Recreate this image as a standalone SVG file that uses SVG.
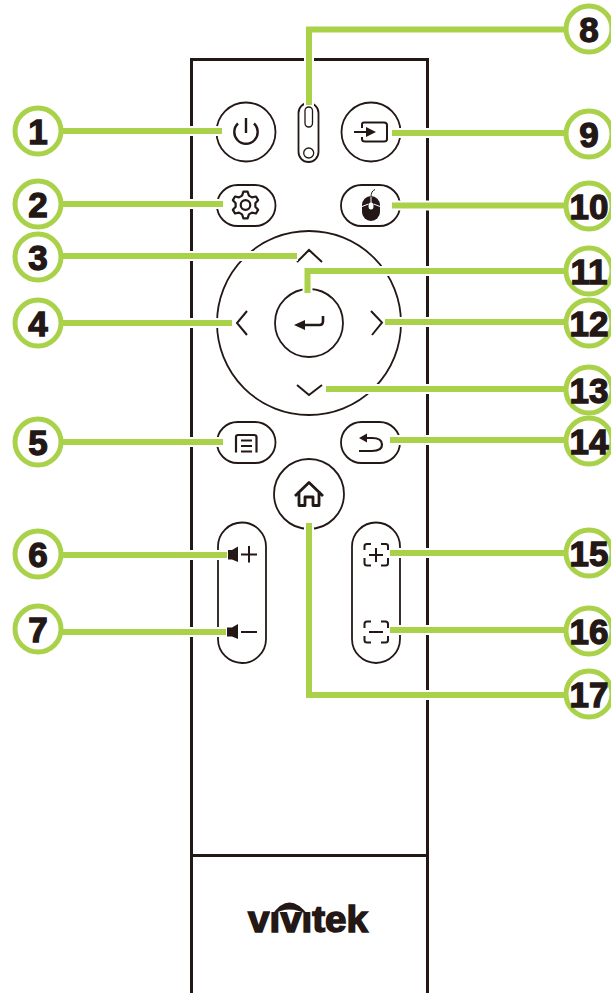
<svg xmlns="http://www.w3.org/2000/svg" width="611" height="993" viewBox="0 0 611 993">
<style>
.body{fill:none;stroke:#231815;stroke-width:3}
.btn{fill:#fff;stroke:#231815;stroke-width:1.8}
.ic{fill:none;stroke:#231815;stroke-width:2.200}
.icf{fill:#231815;stroke:none}
.halo path{fill:none;stroke:#fff;stroke-width:10}
.lead path{fill:none;stroke:#a9d24a;stroke-width:6}
.num circle{fill:#fff;stroke:#a9d24a;stroke-width:5}
.num text{font-family:"Liberation Sans",Arial,sans-serif;font-weight:700;font-size:35px;fill:#231815;stroke:#231815;stroke-width:1.300;text-anchor:middle}
</style>
<rect width="611" height="993" fill="#fff"/>
<g id="remote-body">
<path class="body" d="M191.500 993V59.500H427.500V993"/>
<path class="body" d="M191.500 855.500H427.500"/>
</g>
<g id="btn-power"><circle class="btn" cx="246" cy="132" r="29.500"/><path class="ic" d="M238 123.500A11.700 11.700 0 1 0 254 123.500M246 118V133" style="stroke-width:2.400"/></g>
<g id="sensor"><rect class="btn" x="298.500" y="103" width="20" height="59" rx="10"/><rect class="btn" x="305" y="107" width="7.500" height="20" rx="3.700" style="stroke-width:1.300"/><circle class="btn" cx="308.700" cy="153" r="5" style="stroke-width:1.300"/></g>
<g id="btn-input"><circle class="btn" cx="371" cy="132" r="29.500"/><path class="ic" d="M362 128V124.500Q362 122.500 364 122.500H384Q387 122.500 387 125V139Q387 141.500 384 141.500H365Q362 141.500 362 139V137" style="stroke-width:2"/><path class="ic" d="M354 132H370" style="stroke-width:2"/><path class="icf" d="M366 127L376 132L366 137Z"/></g>
<g id="btn-settings"><rect class="btn" x="217" y="185" width="58.500" height="41" rx="20.500"/><path class="ic" transform="translate(245.500 205)" d="M-3.420-9.400L-2.100-13.300H2.100L3.420-9.400L6.430-7.660L10.500-8.500L12.600-4.840L9.850-1.740V1.740L12.600 4.840L10.500 8.500L6.430 7.660L3.420 9.400L2.100 13.300H-2.100L-3.420 9.400L-6.430 7.660L-10.500 8.500L-12.600 4.840L-9.850 1.740V-1.740L-12.600-4.840L-10.500-8.500L-6.430-7.660Z" stroke-linejoin="round"/><circle class="ic" cx="245.500" cy="205" r="4.800"/></g>
<g id="btn-mouse"><rect class="btn" x="341" y="185" width="59" height="41" rx="20.500"/><rect class="icf" x="362" y="196" width="18" height="25" rx="9"/><path d="M371 196V203M362 206.500L368.500 204M380 206.500L373.500 204" fill="none" stroke="#fff" stroke-width="1"/><ellipse cx="371" cy="206" rx="2.500" ry="3.500" fill="#fff"/><path class="ic" d="M371 197Q371 191 375 189.500" style="stroke-width:1"/></g>
<g id="dpad"><circle class="btn" cx="309" cy="323" r="92"/><path class="ic" d="M247 311L237 323L247 335M371 311L382 322.500L372 335M297 262L309 250L322 262M297 385L309 395L322 385" style="stroke-width:2"/></g>
<g id="btn-enter"><circle class="btn" cx="309" cy="323" r="34"/><path class="ic" d="M300 325H319.500Q323 325 323 321V316" style="stroke-width:2.600"/><path class="icf" d="M294 325L305 320V330Z"/></g>
<g id="btn-menu"><rect class="btn" x="217" y="422" width="58.500" height="41" rx="20.500"/><path class="ic" d="M236 452.500V437Q236 435 238 435H254Q256.500 435 256.500 437V452.500M241 440.500H252M241 446H252M241 451.500H252"/></g>
<g id="btn-back"><rect class="btn" x="341" y="422" width="59" height="41" rx="20.500"/><path class="ic" d="M362 438H372Q382 438 382 444.500Q382 451 372 451H359"/><path class="icf" d="M359 438L367 433.500V442.500Z"/></g>
<g id="btn-home"><circle class="btn" cx="309" cy="494" r="35"/><path class="ic" d="M295 496L309 482.500L323 496M299 491V505.500H305V497H313V505.500H319V491" style="stroke-width:2.800" stroke-linejoin="round"/></g>
<g id="btn-volume"><rect class="btn" x="218" y="522.500" width="48" height="140.500" rx="24"/><path class="icf" d="M227 550H232L238 546.500V562L232 559.500H227Z"/><path class="ic" d="M241 554.500H257M249 546V562.500" style="stroke-width:2"/><path class="icf" d="M227 627.500H232L238 624V639L232 636.500H227Z"/><path class="ic" d="M241 632H257" style="stroke-width:2"/></g>
<g id="btn-zoom"><rect class="btn" x="352" y="522.500" width="48" height="140.500" rx="24"/><path class="ic" d="M364.500 550V546Q364.500 544 367 544H371M381 544H385.500Q388 544 388 546V550M364.500 558V563Q364.500 565.500 367 565.500H371M381 565.500H385.500Q388 565.500 388 563V558M369 555H383M376 548V562" style="stroke-width:2"/><path class="ic" d="M364.500 628V624Q364.500 621.500 367 621.500H371M381 621.500H385.500Q388 621.500 388 624V628M364.500 636V640Q364.500 642.500 367 642.500H371M381 642.500H385.500Q388 642.500 388 640V636M369 632H383" style="stroke-width:2"/></g>
<g id="logo">
<text x="248" y="932" font-family="Liberation Sans,Arial,sans-serif" font-weight="700" font-size="37" textLength="120" lengthAdjust="spacingAndGlyphs" fill="#231815" stroke="#231815" stroke-width="1.500">vivitek</text>
<path d="M270 912H311V899H270Z" fill="#fff"/>
<path d="M272 915Q289 890 308 915Q289 904 272 915Z" fill="#231815"/>
</g>
<g id="connectors">
<g class="halo">
<path d="M60 131H223"/><path d="M60 204H224"/><path d="M60 256H298"/><path d="M60 323H233"/><path d="M60 442H224"/><path d="M60 555H228"/><path d="M60 632H227"/>
<path d="M568 29.500H309V106"/><path d="M391 133H568"/><path d="M391 205.500H568"/><path d="M307.500 294V271H568"/><path d="M384 322H568"/><path d="M325 389H568"/><path d="M389 440H568"/><path d="M389 553H568"/><path d="M389 630H568"/><path d="M309 522V695H568"/>
</g>
<g class="lead">
<path d="M60 131H222"/><path d="M60 204H223"/><path d="M60 256H297"/><path d="M60 323H232"/><path d="M60 442H223"/><path d="M60 555H227"/><path d="M60 632H226"/>
<path d="M568 29.500H309V105"/><path d="M392 133H568"/><path d="M392 205.500H568"/><path d="M307.500 293V271H568"/><path d="M385 322H568"/><path d="M326 389H568"/><path d="M390 440H568"/><path d="M390 553H568"/><path d="M390 630H568"/><path d="M309 523V695H568"/>
</g>
</g>
<g class="num" id="n1"><circle cx="38" cy="131" r="23"/><text x="38" y="143.500">1</text></g>
<g class="num" id="n2"><circle cx="38" cy="204" r="23"/><text x="38" y="216.500">2</text></g>
<g class="num" id="n3"><circle cx="38" cy="257" r="23"/><text x="38" y="269.500">3</text></g>
<g class="num" id="n4"><circle cx="38" cy="323" r="23"/><text x="38" y="335.500">4</text></g>
<g class="num" id="n5"><circle cx="38" cy="442" r="23"/><text x="38" y="454.500">5</text></g>
<g class="num" id="n6"><circle cx="38" cy="554" r="23"/><text x="38" y="566.500">6</text></g>
<g class="num" id="n7"><circle cx="38" cy="629" r="23"/><text x="38" y="641.500">7</text></g>
<g class="num" id="n8"><circle cx="589" cy="29" r="23"/><text x="589" y="41.500">8</text></g>
<g class="num" id="n9"><circle cx="589" cy="134" r="23"/><text x="589" y="146.500">9</text></g>
<g class="num" id="n10"><circle cx="589" cy="206" r="23"/><text x="589" y="218.500">10</text></g>
<g class="num" id="n11"><circle cx="589" cy="271" r="23"/><text x="589" y="283.500">11</text></g>
<g class="num" id="n12"><circle cx="589" cy="323" r="23"/><text x="589" y="335.500">12</text></g>
<g class="num" id="n13"><circle cx="589" cy="390" r="23"/><text x="589" y="402.500">13</text></g>
<g class="num" id="n14"><circle cx="589" cy="441" r="23"/><text x="589" y="453.500">14</text></g>
<g class="num" id="n15"><circle cx="589" cy="553" r="23"/><text x="589" y="565.500">15</text></g>
<g class="num" id="n16"><circle cx="589" cy="631" r="23"/><text x="589" y="643.500">16</text></g>
<g class="num" id="n17"><circle cx="589" cy="694" r="23"/><text x="589" y="706.500">17</text></g>
</svg>
